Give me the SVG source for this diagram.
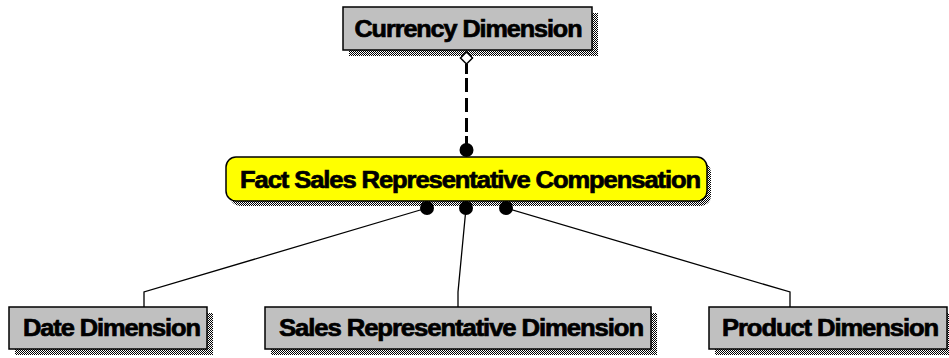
<svg xmlns="http://www.w3.org/2000/svg" width="949" height="358" viewBox="0 0 949 358">
<defs>
<pattern id="dots" width="2" height="2" patternUnits="userSpaceOnUse">
<rect width="2" height="2" fill="#ffffff"/>
<rect width="1" height="1" fill="#000000"/>
<rect x="1" y="1" width="1" height="1" fill="#000000"/>
</pattern>
<style>
.dim{fill:#c0c0c0;stroke:#000;stroke-width:1.5}
.fact{fill:#ffff00;stroke:#000;stroke-width:1.5}
.shadow{fill:url(#dots)}
.lbl{font-family:"Liberation Sans",Arial,sans-serif;font-weight:bold;font-size:23.5px;letter-spacing:-1px;fill:#000;stroke:#000;stroke-width:0.7;text-anchor:middle}
.conn{fill:none;stroke:#000;stroke-width:1.3}
.dot{fill:#000}
</style>
</defs>
<rect width="949" height="358" fill="#fff"/>
<g id="currency">
<rect class="shadow" x="349" y="13" width="249" height="43"/>
<rect class="dim" x="343" y="7" width="249" height="43"/>
<text class="lbl" x="468" y="37" textLength="227" lengthAdjust="spacingAndGlyphs">Currency Dimension</text>
</g>
<g id="fact">
<rect class="shadow" x="230" y="162" width="481" height="44" rx="10"/>
<rect class="fact" x="226" y="157" width="481" height="44" rx="10"/>
<text class="lbl" x="470" y="188" textLength="460" lengthAdjust="spacingAndGlyphs">Fact Sales Representative Compensation</text>
</g>
<g id="date">
<rect class="shadow" x="15" y="313" width="198" height="42"/>
<rect class="dim" x="9" y="307" width="198" height="42"/>
<text class="lbl" x="111.5" y="336" textLength="177" lengthAdjust="spacingAndGlyphs">Date Dimension</text>
</g>
<g id="salesrep">
<rect class="shadow" x="271" y="313" width="386" height="42"/>
<rect class="dim" x="265" y="307" width="386" height="42"/>
<text class="lbl" x="461" y="336" textLength="364" lengthAdjust="spacingAndGlyphs">Sales Representative Dimension</text>
</g>
<g id="product">
<rect class="shadow" x="715" y="313" width="238" height="42"/>
<rect class="dim" x="709" y="307" width="238" height="42"/>
<text class="lbl" x="830" y="336" textLength="216" lengthAdjust="spacingAndGlyphs">Product Dimension</text>
</g>
<g id="connectors">
<path d="M466.5,64 V74" fill="none" stroke="#000" stroke-width="3"/>
<path d="M466.5,78 V134" fill="none" stroke="#000" stroke-width="3" stroke-dasharray="14,6"/>
<path d="M466.5,136 V150" fill="none" stroke="#000" stroke-width="3"/>
<path d="M466.5,52 L472.5,58 L466.5,64 L460.5,58 Z" fill="#fff" stroke="#000" stroke-width="1.5"/>
<circle class="dot" cx="466.5" cy="150" r="7"/>
<path class="conn" d="M427,208 L144,292 V307"/>
<path class="conn" d="M466,208 L458,292 V307"/>
<path class="conn" d="M506,208 L790,292 V307"/>
<circle class="dot" cx="427" cy="208" r="7"/>
<circle class="dot" cx="466" cy="208" r="7"/>
<circle class="dot" cx="506" cy="208" r="7"/>
</g>
</svg>
